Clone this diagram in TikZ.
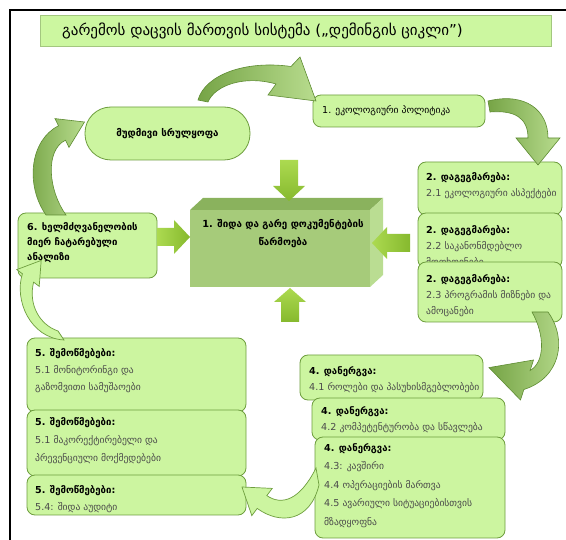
\documentclass[tikz,border=0pt]{standalone}
\usepackage{fontspec}
\setmainfont{DejaVu Sans}
\usetikzlibrary{calc}
\definecolor{boxfill}{HTML}{CCF5A0}
\definecolor{boxline}{HTML}{6E9E3E}
\definecolor{titlefill}{HTML}{CCF7A0}
\definecolor{titleline}{HTML}{A3C77F}
\definecolor{txtgray}{HTML}{4A4A4A}
\definecolor{arrdark}{HTML}{76A446}
\definecolor{arrlight}{HTML}{B8DC8E}
\definecolor{arrline}{HTML}{5E8C32}
\definecolor{sarrA}{HTML}{ACDA50}
\definecolor{sarrB}{HTML}{86B92E}
\definecolor{frontc}{HTML}{A6CB7A}
\definecolor{topc}{HTML}{8AB25D}
\definecolor{sidec}{HTML}{BADD92}
\begin{document}
\begin{tikzpicture}[x=1pt,y=-1pt,
  box/.style={draw=boxline, fill=boxfill, line width=0.8pt, rounded corners=8pt, inner sep=0pt, outer sep=0pt, anchor=north west},
  txt/.style={anchor=north west, inner sep=0pt, align=left, font=\fontsize{9.6}{16}\selectfont},
  btxt/.style={txt, font=\fontsize{9.6}{15}\selectfont\bfseries},
  curvd/.style={draw=arrline, line width=0.6pt, left color=arrdark, right color=arrlight},
  curvl/.style={draw=boxline, line width=0.7pt, fill=boxfill},
  sarr/.style={top color=sarrA, bottom color=sarrB, draw=none},
  sarrh/.style={left color=sarrA, right color=sarrB, draw=none}]
\useasboundingbox (0,0) rectangle (566,540);
\fill[white] (0,0) rectangle (566,540);
% frame
\coordinate (fa) at (10,540); \coordinate (fb) at (10,10); \coordinate (fc) at (566,10);
\draw[line width=2pt] (fa) -- (fb) -- (fc);
% title
\node[draw=titleline, fill=titlefill, line width=0.6pt, anchor=north west, minimum width=511pt, minimum height=31pt, inner sep=0pt] (title) at (40,15) {};
\node[anchor=west, inner sep=0pt, font=\fontsize{15}{18}\selectfont] (titletxt) at (62,31) {გარემოს დაცვის მართვის სისტემა („დემინგის ციკლი”)};
% stadium
\node[box, rounded corners=26pt, minimum width=165pt, minimum height=53pt, font=\fontsize{9.8}{12}\selectfont\bfseries] (st) at (85,107) {მუდმივი სრულყოფა};
% box 1
\node[box, minimum width=172pt, minimum height=32pt] (b1) at (313,95) {};
\node[txt, anchor=west] (t1) at (322,111) {1. ეკოლოგიური პოლიტიკა};
% boxes 2
\node[box, minimum width=144pt, minimum height=53pt] (b21) at (418,162) {};
\node[txt] (t21) at (426,172) {{\bfseries 2. დაგეგმარება:}\\\textcolor{txtgray}{2.1 ეკოლოგიური ასპექტები}};
\node[box, minimum width=144pt, minimum height=55pt] (b22) at (418,213) {};
\node[txt] (t22) at (426,225) {{\bfseries 2. დაგეგმარება:}\\\textcolor{txtgray}{2.2 საკანონმდებლო}\\\textcolor{txtgray}{მოთხოვნები}};
\node[box, minimum width=144pt, minimum height=60pt] (b23) at (418,262) {};
\node[txt] (t23) at (426,274) {{\bfseries 2. დაგეგმარება:}\\\textcolor{txtgray}{2.3 პროგრამის მიზნები და}\\\textcolor{txtgray}{ამოცანები}};
% central box
\coordinate (fnw) at (190,210); \coordinate (fne) at (370,210); \coordinate (fse) at (370,287); \coordinate (fsw) at (190,287);
\coordinate (bnw) at (203,198); \coordinate (bne) at (383,198); \coordinate (bse) at (383,275);
\fill[topc] (fnw) -- (bnw) -- (bne) -- (fne) -- cycle;
\fill[sidec] (fne) -- (bne) -- (bse) -- (fse) -- cycle;
\fill[frontc] (fnw) -- (fne) -- (fse) -- (fsw) -- cycle;
\node[align=center, inner sep=0pt, font=\fontsize{9.8}{18}\selectfont\bfseries] (ct) at (283,234) {1. შიდა და გარე დოკუმენტების\\წარმოება};
% box 6
\node[box, minimum width=139pt, minimum height=65pt] (b6) at (18,213) {};
\node[btxt] (t6) at (27,222) {6. ხელმძღვანელობის\\მიერ ჩატარებული\\ანალიზი};
% boxes 5
\node[box, minimum width=219pt, minimum height=74pt] (b51) at (27,338) {};
\node[txt, font=\fontsize{9.6}{17}\selectfont] (t51) at (35,348) {{\bfseries 5. შემოწმებები:}\\\textcolor{txtgray}{5.1 მონიტორინგი და}\\\textcolor{txtgray}{გაზომვითი სამუშაოები}};
\node[box, minimum width=219pt, minimum height=66pt] (b52) at (27,410) {};
\node[txt, font=\fontsize{9.6}{18}\selectfont] (t52) at (35,417) {{\bfseries 5. შემოწმებები:}\\\textcolor{txtgray}{5.1 მაკორექტირებელი და}\\\textcolor{txtgray}{პრევენციული მოქმედებები}};
\node[box, minimum width=219pt, minimum height=40pt] (b54) at (27,475) {};
\node[txt, font=\fontsize{9.6}{17}\selectfont] (t54) at (35,485) {{\bfseries 5. შემოწმებები:}\\\textcolor{txtgray}{5.4: შიდა აუდიტი}};
% boxes 4
\node[box, minimum width=183pt, minimum height=45pt] (b41) at (300,355) {};
\node[txt] (t41) at (309,366) {{\bfseries 4. დანერგვა:}\\\textcolor{txtgray}{4.1 როლები და პასუხისმგებლობები}};
\node[box, minimum width=193pt, minimum height=42pt] (b42) at (312,398) {};
\node[txt] (t42) at (321,406) {{\bfseries 4. დანერგვა:}\\\textcolor{txtgray}{4.2 კომპეტენტურობა და სწავლება}};
\node[box, minimum width=190pt, minimum height=101pt] (b43) at (315,437) {};
\node[txt, font=\fontsize{9.6}{18.5}\selectfont] (t43) at (324,443) {{\bfseries 4. დანერგვა:}\\\textcolor{txtgray}{4.3: კავშირი}\\\textcolor{txtgray}{4.4 ოპერაციების მართვა}\\\textcolor{txtgray}{4.5 ავარიული სიტუაციებისთვის}\\\textcolor{txtgray}{მზადყოფნა}};
% straight arrows around the central box
\path[sarr] (280,160) -- (298,160) -- (298,186) -- (305,186) -- (289,201) -- (273,186) -- (280,186) -- cycle;
\path[sarr] (281,322) -- (299,322) -- (299,302) -- (306,302) -- (290,288) -- (274,302) -- (281,302) -- cycle;
\path[sarrh] (410,234) -- (410,252) -- (387,252) -- (387,259) -- (372,243) -- (387,227) -- (387,234) -- cycle;
\path[sarrh] (b6.east |- 0,228) -- (174,228) -- (174,220) -- (190,237) -- (174,254) -- (174,246) -- (b6.east |- 0,246) -- cycle;
% curved arrows
% A: stadium -> box 1
\path[curvd] (198,100) .. controls (205,75) and (245,60) .. (291,66.5) -- (300,57) -- (316,101) -- (268,95) -- (276,84) .. controls (245,75) and (215,85) .. (208,102) -- cycle;
% B: box 1 -> box 2.1
\path[curvd] (488,101) .. controls (525,92) and (548,110) .. (548,138) -- (560,138) -- (538,165) -- (516,138) -- (528,138) .. controls (528,118) and (515,110) .. (490,112) -- cycle;
% C: box 2.3 -> box 4.1
\path[curvd] (548,312) .. controls (568,340) and (560,378) .. (523.9,389.5) -- (520.5,400) -- (489,367.6) -- (533.5,360) -- (530.1,370.5) .. controls (545,362) and (545,335) .. (532,312) -- cycle;
% D: box 4.3 -> box 5.4
\path[curvl] (319,485) .. controls (310,522) and (280,525) .. (257.2,508.4) -- (251.8,515.6) -- (242,487) -- (272.2,488.4) -- (266.8,495.6) .. controls (282,506) and (300,500) .. (316,468) -- cycle;
% E: box 5 -> box 6
\path[curvl] (64,340) .. controls (30,338) and (14,300) .. (22.4,273.8) -- (16.8,269.6) -- (41.2,260.4) -- (39.2,286.4) -- (33.6,282.2) .. controls (28,305) and (40,325) .. (58,331) -- cycle;
% F: box 6 -> stadium
\path[curvd] (46,215) .. controls (25,185) and (30,140) .. (58.5,125.8) -- (55,118.6) -- (84.5,122) -- (69,147.4) -- (65.5,140.2) .. controls (45,150) and (48,190) .. (66,215) -- cycle;
\end{tikzpicture}
\end{document}
